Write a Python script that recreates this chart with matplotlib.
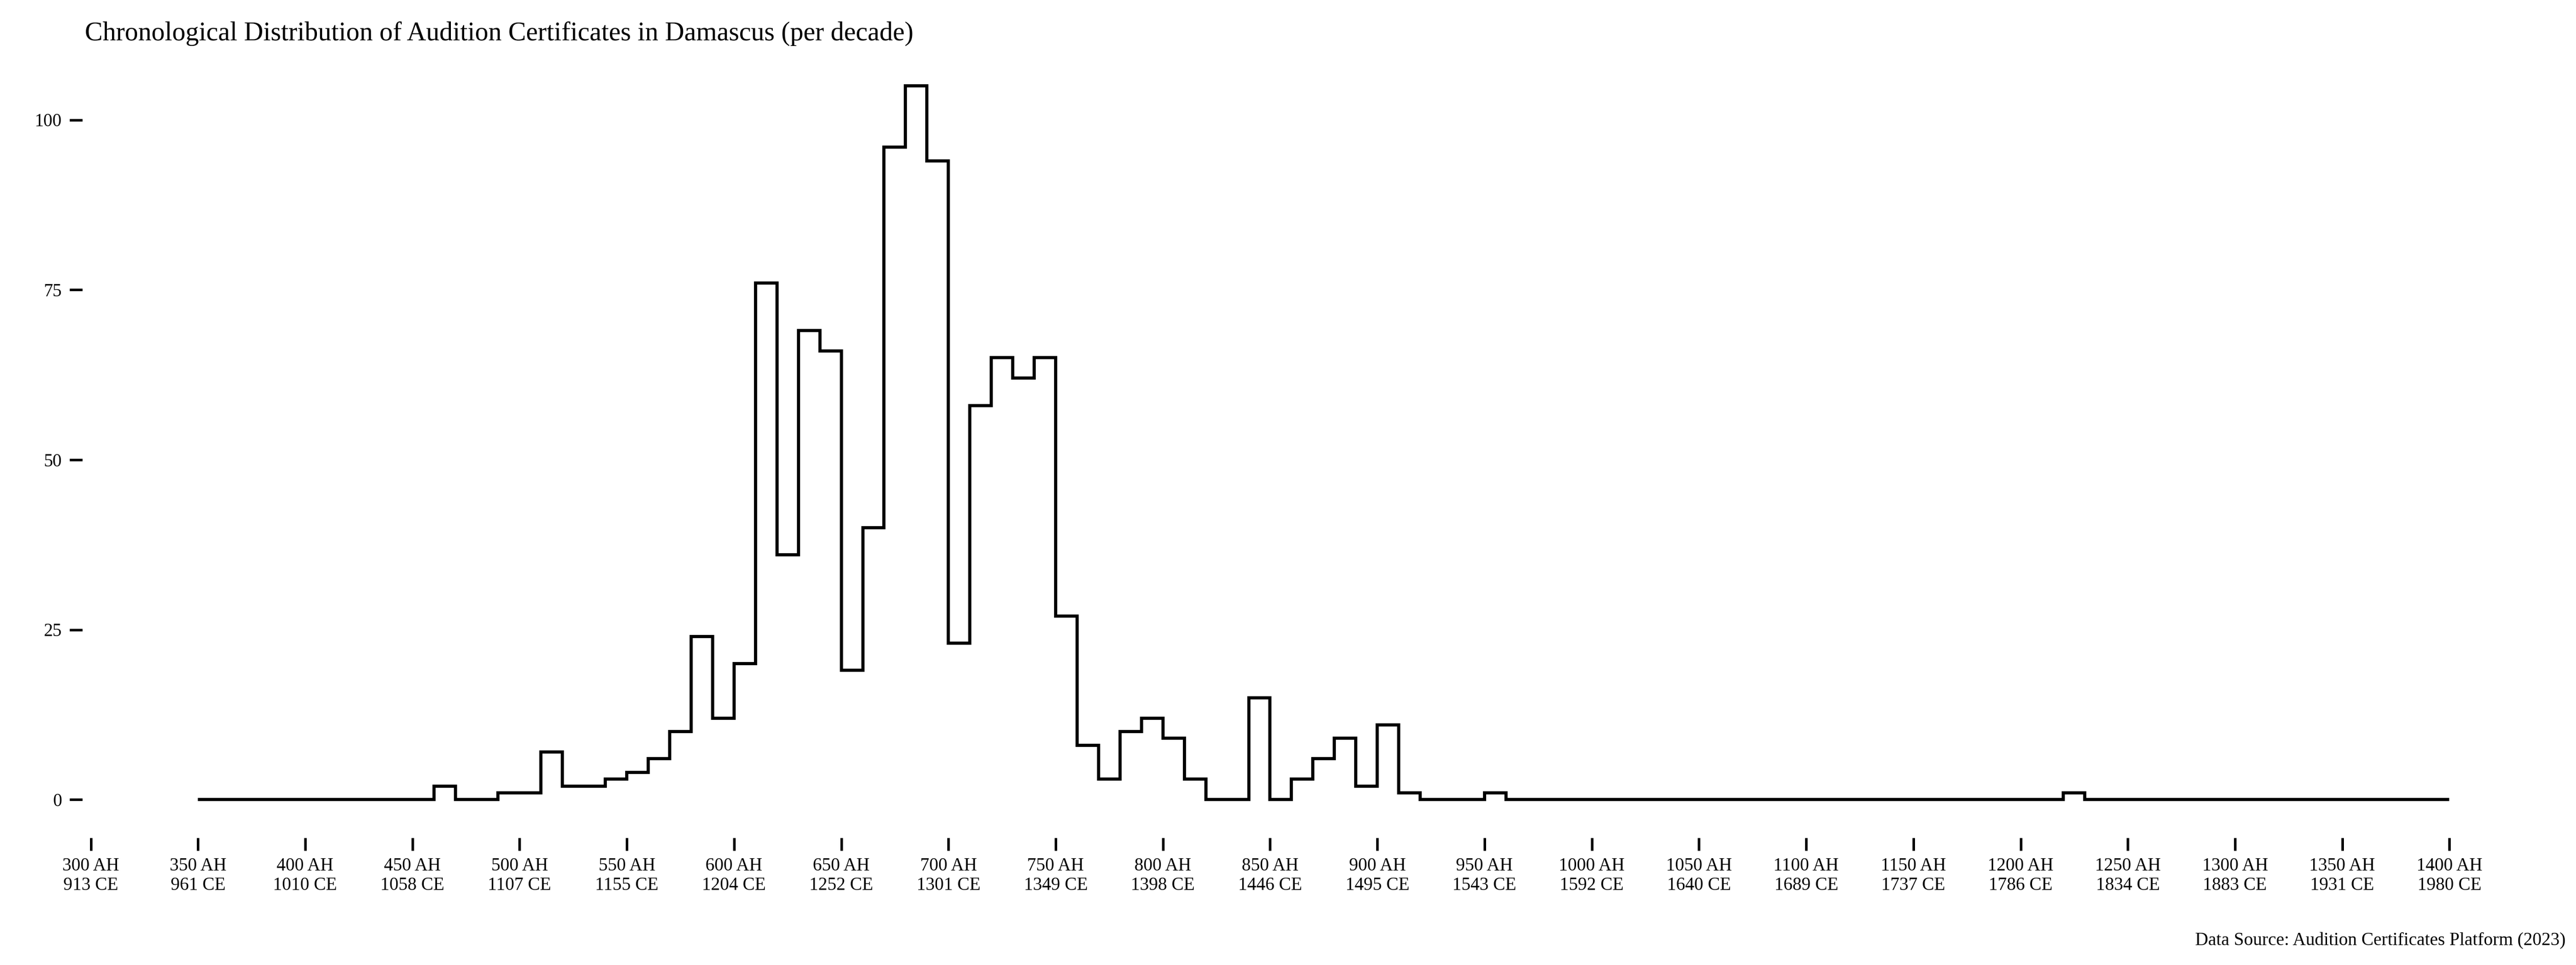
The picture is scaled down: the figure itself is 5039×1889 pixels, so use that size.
import numpy as np
import matplotlib.pyplot as plt

# certificates per decade, starting 350 AH (last bin 1390-1400 AH)
decade_start = list(range(350, 1400, 10))
counts = ([0] * 11 +                     # 350-450
          [2, 0, 0, 1, 1, 7, 2, 2, 3, 4,   # 460-550
           6, 10, 24, 12, 20, 76, 36, 69, 66, 19,   # 560-650
           40, 96, 105, 94, 23, 58, 65, 62, 65, 27,  # 660-750
           8, 3, 10, 12, 9, 3, 0, 0, 15, 0,          # 760-850
           3, 6, 9, 2, 11, 1, 0, 0, 0, 1] +          # 860-950
          [0] * 26 +                                 # 960-1210
          [1] +                                      # 1220
          [0] * 17)                                  # 1230-1390
edges = decade_start + [1400]

tick_ah = list(range(300, 1401, 50))
tick_labels = [f"{ah} AH\n{round(ah * 0.970229 + 621.57)} CE" for ah in tick_ah]

plt.rcParams['font.family'] = ['Liberation Serif', 'DejaVu Serif']

fig = plt.figure(figsize=(5039 / 300, 1889 / 300), dpi=300)
ax = fig.add_axes([0.0319, 0.132, 0.9198, 0.80])

ax.stairs(counts, edges, color='black', linewidth=1.5, baseline=None)

ax.set_xlim(296, 1401)
ax.set_ylim(-5.6, 108)
ax.set_xticks(tick_ah)
ax.set_xticklabels(tick_labels)
ax.set_yticks([0, 25, 50, 75, 100])
ax.tick_params(axis='both', direction='out', length=6, width=1.2, labelsize=8.5, color='black')
for s in ax.spines.values():
    s.set_visible(False)

fig.text(0.033, 0.965, "Chronological Distribution of Audition Certificates in Damascus (per decade)",
         fontsize=12.5, ha='left', va='center')
fig.text(0.996, 0.025, "Data Source: Audition Certificates Platform (2023)",
         fontsize=8.5, ha='right', va='center')

fig.savefig("out.png", dpi=300, facecolor='white')
